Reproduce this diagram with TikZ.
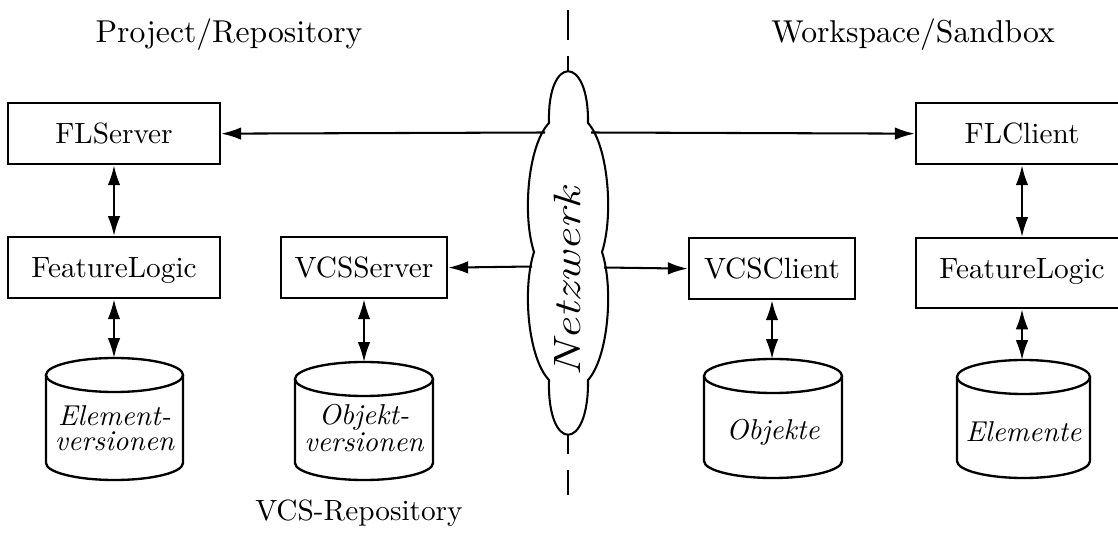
\documentclass[tikz,border=0pt]{standalone}
\usepackage{graphicx}
\usetikzlibrary{arrows.meta}

% drum-shaped store: centre x, half width, top y, bottom y
\newcommand{\dbdrum}[4]{%
  \draw[drum] (#1-#2,#3-17) -- (#1-#2,#4+17)
    arc[start angle=180,end angle=360,x radius=#2,y radius=17] -- (#1+#2,#3-17);
  \draw[drum] (#1,#3-17) ellipse[x radius=#2,y radius=17];
}

\begin{document}
\begin{tikzpicture}[x=0.3413pt,y=0.3413pt,
  box/.style={draw,line width=0.8pt,inner sep=0pt,anchor=north,
    text height=13.8pt,text depth=7pt},
  widebox/.style={box,minimum width=72.4pt},
  narrowbox/.style={box,minimum width=56.7pt},
  drum/.style={draw,line width=0.8pt,fill=white},
  tip/.tip={Latex[length=6.8pt,width=4.3pt]},
  link/.style={line width=0.7pt,-tip},
  dlink/.style={line width=0.7pt,tip-tip},
  title/.style={anchor=base,font=\fontsize{10.8}{13}\selectfont},
  store/.style={font=\itshape\fontsize{9.8}{8.4}\selectfont,align=center}]

\useasboundingbox (0,0) rectangle (1118,533);
\clip (0,0) rectangle (1118,533);

% dividing line between repository and workspace
\coordinate (divtop) at (568,523);
\coordinate (divbot) at (568,38);
\draw[line width=0.7pt,dash pattern=on 10.24pt off 5.46pt] (divtop) -- (divbot);

% network cloud
\draw[line width=0.7pt,fill=white]
  (549,410) .. controls (547,479) and (589,479) .. (588,410)
            .. controls (608,388) and (614,318) .. (602,281)
            .. controls (614,244) and (608,175) .. (588,153)
            .. controls (589,80) and (547,80) .. (549,153)
            .. controls (528,175) and (522,244) .. (534,281)
            .. controls (522,318) and (528,388) .. cycle;
\node[rotate=90,font=\itshape\fontsize{13}{15}\selectfont] (net) at (567,251)
  {\scalebox{1.28}[1]{Netzwerk}};

\coordinate (netL1) at (545,400.5);
\coordinate (netR1) at (591,400.5);
\coordinate (netL2) at (532,266.5);
\coordinate (netR2) at (604,265.5);

% titles
\node[title] (proj) at (229,490) {Project/Repository};
\node[title] (work) at (913,490) {Workspace/Sandbox};
\node[anchor=base] (vcsrep) at (359,13) {VCS-Repository};

% boxes
\node[widebox] (fls) at (114,431) {FLServer};
\node[widebox] (fll) at (114,297) {FeatureLogic};
\node[narrowbox] (vcss) at (364,297) {VCSServer};
\node[narrowbox] (vcsc) at (772,296) {VCSClient};
\node[widebox] (flc) at (1022,431) {FLClient};
\node[widebox,text depth=10.1pt] (flr) at (1022,296) {FeatureLogic};

% stores
\dbdrum{114.5}{68.5}{175}{53}
\dbdrum{364}{69}{171}{53}
\dbdrum{773}{69}{174}{55}
\dbdrum{1023.5}{66.5}{173}{55}
\coordinate (st1) at (114,175);
\coordinate (st2) at (364,171);
\coordinate (st3) at (772,174);
\coordinate (st4) at (1022,173);
\node[store] (elv) at (114.5,105) {Element-\\versionen};
\node[store] (obv) at (364,105) {Objekt-\\versionen};
\node[store] (obj) at (773,101) {Objekte};
\node[store] (ele) at (1023.5,101) {Elemente};

% connections across the network
\draw[link] (netL1) -- (fls.east);
\draw[link] (netR1) -- (flc.west);
\draw[link] (netL2) -- (vcss.east);
\draw[link] (netR2) -- (vcsc.west);

% vertical connections
\draw[dlink] (fls.south) -- (fll.north);
\draw[dlink] (fll.south) -- (st1);
\draw[dlink] (vcss.south) -- (st2);
\draw[dlink] (vcsc.south) -- (st3);
\draw[dlink] (flc.south) -- (flr.north);
\draw[dlink] (flr.south) -- (st4);
\end{tikzpicture}
\end{document}
